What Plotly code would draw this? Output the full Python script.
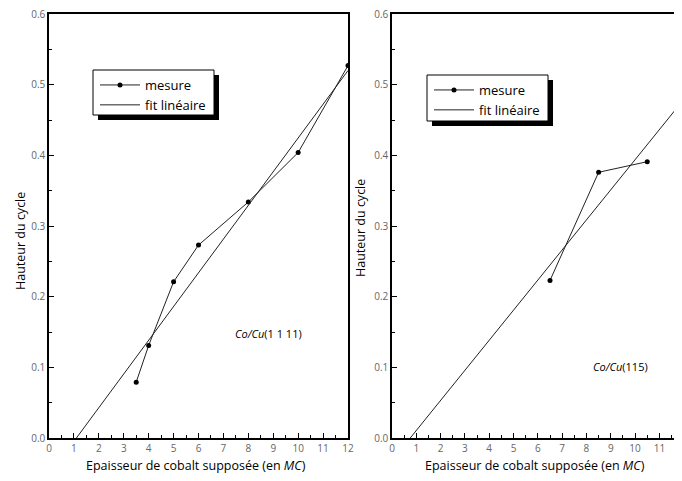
import plotly.graph_objects as go

# Co/Cu(1 1 11) - left panel
left_x = [3.5, 4, 5, 6, 8, 10, 12]
left_y = [0.079, 0.131, 0.221, 0.273, 0.334, 0.404, 0.527]
left_fit_x = [1.1, 12]
left_fit_y = [0.0, 0.52]

# Co/Cu(115) - right panel
right_x = [6.5, 8.5, 10.5]
right_y = [0.223, 0.376, 0.391]
right_fit_x = [0.75, 12]
right_fit_y = [0.0, 0.479]

y_ticks = [0.0, 0.1, 0.2, 0.3, 0.4, 0.5, 0.6]
y_labels = ["0.0", "0.1", "0.2", "0.3", "0.4", "0.5", "0.6"]

# page body adds an 8px margin, so the figure is a bit smaller and shifted
OFF = 8
W, H = 682 - OFF, 481 - OFF
def px(x):
    return (x - OFF) / W
def py(y):
    return 1 - (y - OFF) / H

font = "Open Sans"
fig = go.Figure()

line_style = dict(color="#222", width=1)
fig.add_trace(go.Scatter(x=left_x, y=left_y, mode="lines+markers", name="mesure",
                         line=line_style, marker=dict(size=5, color="black"),
                         xaxis="x", yaxis="y", legend="legend"))
fig.add_trace(go.Scatter(x=left_fit_x, y=left_fit_y, mode="lines", name="fit linéaire",
                         line=line_style, xaxis="x", yaxis="y", legend="legend"))
fig.add_trace(go.Scatter(x=right_x, y=right_y, mode="lines+markers", name="mesure",
                         line=line_style, marker=dict(size=5, color="black"),
                         xaxis="x2", yaxis="y2", legend="legend2"))
fig.add_trace(go.Scatter(x=right_fit_x, y=right_fit_y, mode="lines", name="fit linéaire",
                         line=line_style, xaxis="x2", yaxis="y2", legend="legend2"))

xcommon = dict(dtick=1, tick0=0, ticks="inside", ticklen=5, tickcolor="black",
               showline=True, linecolor="black", linewidth=1.5, mirror=True,
               showgrid=False, zeroline=False, automargin=False, ticklabeloverflow="allow",
               minor=dict(dtick=0.5, ticks="inside", ticklen=3, tickcolor="black"),
               tickfont=dict(family=font, size=10, color="#666"))
ycommon = dict(range=[0, 0.6], tickvals=y_ticks, ticktext=y_labels,
               ticks="inside", ticklen=5, tickcolor="black",
               showline=True, linecolor="black", linewidth=1.5, mirror=True,
               showgrid=False, zeroline=False, automargin=False, ticklabeloverflow="allow",
               minor=dict(tick0=0.05, dtick=0.1, ticks="inside", ticklen=3, tickcolor="black"),
               tickfont=dict(family=font, size=10, color="#666"))

ydom = [py(438), py(14)]
legend_style = dict(xanchor="left", yanchor="top",
                    bgcolor="rgba(0,0,0,0)", borderwidth=0,
                    font=dict(family=font, size=13, color="black"),
                    tracegroupgap=0, itemwidth=40)
fig.update_layout(
    width=W, height=H, margin=dict(l=0, r=0, t=0, b=0, autoexpand=False),
    plot_bgcolor="white", paper_bgcolor="white",
    xaxis=dict(domain=[px(49), px(348)], range=[0, 12], anchor="y", **xcommon),
    yaxis=dict(domain=ydom, anchor="x", **ycommon),
    xaxis2=dict(domain=[px(392), 1], range=[0, 11.93], anchor="y2", **xcommon),
    yaxis2=dict(domain=ydom, anchor="x2", **ycommon),
    legend=dict(x=px(95), y=py(70), **legend_style),
    legend2=dict(x=px(429), y=py(75), **legend_style),
    showlegend=True,
)

# legend boxes with drop shadows
for x0, y0, x1, y1 in [(93, 70, 214, 115), (427, 75, 548, 121)]:
    fig.add_shape(type="rect", xref="paper", yref="paper",
                  x0=px(x0 + 5), x1=px(x1 + 5), y0=py(y1 + 5), y1=py(y0 + 5),
                  fillcolor="black", line=dict(width=0), layer="above")
    fig.add_shape(type="rect", xref="paper", yref="paper",
                  x0=px(x0), x1=px(x1), y0=py(y1), y1=py(y0),
                  fillcolor="white", line=dict(color="black", width=1), layer="above")

ann = []
for xc, txt in [(196, "Epaisseur de cobalt supposée (en <i>MC</i>)"),
                (535, "Epaisseur de cobalt supposée (en <i>MC</i>)")]:
    ann.append(dict(x=px(xc), y=py(465), text=txt,
                    font=dict(family=font, size=12.5, color="black")))
for xc, yc in [(20, 241), (361, 228)]:
    ann.append(dict(x=px(xc), y=py(yc), text="Hauteur du cycle", textangle=-90,
                    font=dict(family=font, size=12.5, color="black")))
ann.append(dict(x=px(268), y=py(333), text="<i>Co/Cu</i>(1 1 11)",
                font=dict(family=font, size=11, color="black")))
ann.append(dict(x=px(620), y=py(366), text="<i>Co/Cu</i>(115)",
                font=dict(family=font, size=11, color="black")))
for a in ann:
    a.update(xref="paper", yref="paper", xanchor="center", yanchor="middle", showarrow=False)
fig.update_layout(annotations=ann)

fig.write_html("out.html")
